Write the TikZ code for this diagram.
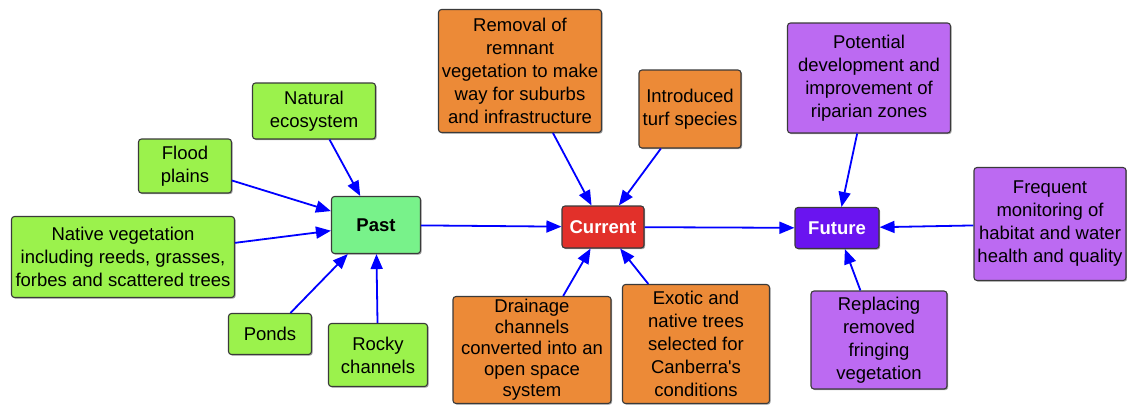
\documentclass[tikz,border=0pt]{standalone}
\usepackage{fontspec}
\setmainfont{Liberation Sans}
\usetikzlibrary{arrows.meta,shadows}
\definecolor{lime}{HTML}{9BF24C}
\definecolor{mint}{HTML}{78F28A}
\definecolor{orng}{HTML}{EC8A37}
\definecolor{curred}{HTML}{E2302A}
\definecolor{lilac}{HTML}{BC6AF2}
\definecolor{violet}{HTML}{6A14F0}
\definecolor{edge}{HTML}{3A3A3A}
\tikzset{
  box/.style={draw=edge, line width=1.1pt, rounded corners=3pt, align=center,
    inner sep=0pt, font=\fontsize{18.5}{23}\selectfont,
    drop shadow={shadow xshift=1.2pt, shadow yshift=-1.2pt, opacity=0.35, fill=black}},
  gbox/.style={box, fill=lime},
  obox/.style={box, fill=orng},
  pbox/.style={box, fill=lilac},
  hub/.style={box, font=\fontsize{18.5}{22}\selectfont\bfseries},
  arr/.style={draw=blue, line width=1.8pt, -{Triangle[length=15pt,width=12pt]}}
}
\begin{document}
\begin{tikzpicture}[x=1pt,y=-1pt]
\useasboundingbox (0,0) rectangle (1127,405);
% hubs
\node[hub, fill=mint, minimum width=89pt, minimum height=57pt] (past) at (376,225) {Past};
\node[hub, fill=curred, text=white, minimum width=82pt, minimum height=42pt] (cur) at (603,227) {Current};
\node[hub, fill=violet, text=white, minimum width=84pt, minimum height=41pt] (fut) at (837,228) {Future};
% past
\node[gbox, minimum width=123pt, minimum height=56pt] (nat) at (314,111) {Natural\\ecosystem};
\node[gbox, minimum width=93pt, minimum height=54pt] (flood) at (185,166) {Flood\\plains};
\node[gbox, minimum width=223pt, minimum height=81pt] (native) at (123,257) {Native vegetation\\including reeds, grasses,\\forbes and scattered trees};
\node[gbox, minimum width=83pt, minimum height=41pt] (ponds) at (270,334) {Ponds};
\node[gbox, minimum width=99pt, minimum height=63pt] (rocky) at (378,355) {Rocky\\channels};
% current
\node[obox, minimum width=163pt, minimum height=123pt] (rem) at (520,71) {Removal of\\remnant\\vegetation to make\\way for suburbs\\and infrastructure};
\node[obox, minimum width=102pt, minimum height=78pt] (turf) at (690,109) {Introduced\\turf species};
\node[obox, minimum width=158pt, minimum height=107pt, font=\fontsize{18.5}{21}\selectfont] (drain) at (532,350) {Drainage\\channels\\converted into an\\open space\\system};
\node[obox, minimum width=147pt, minimum height=119pt] (exo) at (696,344) {Exotic and\\native trees\\selected for\\Canberra\textquotesingle s\\conditions};
% future
\node[pbox, minimum width=163pt, minimum height=110pt] (pot) at (869,78) {Potential\\development and\\improvement of\\riparian zones};
\node[pbox, minimum width=152pt, minimum height=113pt] (freq) at (1050,224) {Frequent\\monitoring of\\habitat and water\\health and quality};
\node[pbox, minimum width=136pt, minimum height=98pt] (rep) at (879,340) {Replacing\\removed\\fringing\\vegetation};
% connectors
\draw[arr] (nat) -- (past);
\draw[arr] (flood) -- (past);
\draw[arr] (native) -- (past);
\draw[arr] (ponds) -- (past);
\draw[arr] (rocky) -- (past);
\draw[arr] (past) -- (cur);
\draw[arr] (rem) -- (cur);
\draw[arr] (turf) -- (cur);
\draw[arr] (drain) -- (cur);
\draw[arr] (exo) -- (cur);
\draw[arr] (cur) -- (fut);
\draw[arr] (pot) -- (fut);
\draw[arr] (freq) -- (fut);
\draw[arr] (rep) -- (fut);
\end{tikzpicture}
\end{document}
